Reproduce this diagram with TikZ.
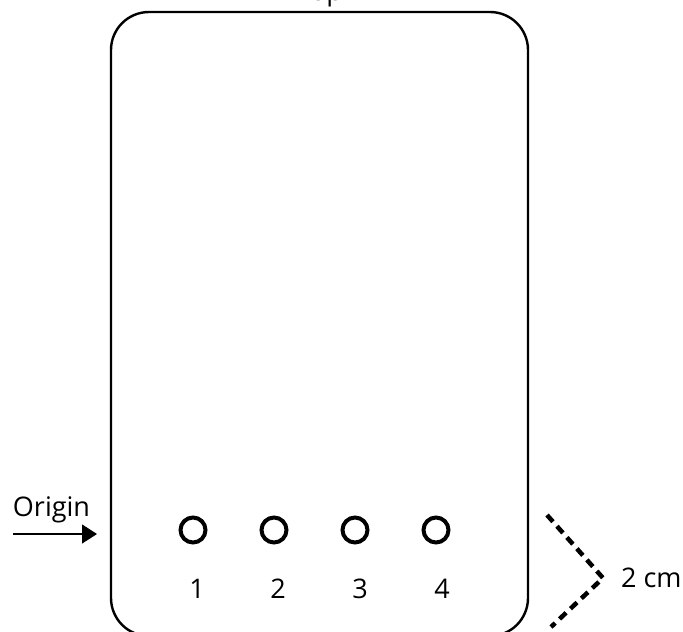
\documentclass[tikz,border=0pt]{standalone}
\usepackage{fontspec}
\setmainfont{Open Sans}
\usetikzlibrary{arrows.meta}
\begin{document}
\begin{tikzpicture}[x=1pt,y=-1pt,
  lbl/.style={font=\fontsize{27}{30}\selectfont, inner sep=0pt, anchor=base},
  hole/.style={circle, draw, line width=4pt, minimum size=25pt, inner sep=0pt},
  boxline/.style={line width=2.4pt, rounded corners=38pt},
  dimline/.style={line width=4.5pt, dash pattern=on 9pt off 6pt}]
\useasboundingbox (0,0) rectangle (683,632);
% outer rounded plate
\draw[boxline] (111,12) rectangle (528,636);
% top label (cut off)
\node[lbl] (top) at (320,0.5) {Top};
% holes
\node[hole] (h1) at (193,530) {};
\node[hole] (h2) at (274,530) {};
\node[hole] (h3) at (355,530) {};
\node[hole] (h4) at (436,530) {};
\node[lbl] (n1) at (197,598) {1};
\node[lbl] (n2) at (278,598) {2};
\node[lbl] (n3) at (360,598) {3};
\node[lbl] (n4) at (442,598) {4};
% origin arrow
\node[lbl] (origin) at (51.5,516) {Origin};
\coordinate (a0) at (13,534);
\coordinate (a1) at (97,534);
\draw[line width=1.3pt, -{Triangle[length=15pt,width=19pt]}] (a0) -- (a1);
% 2 cm dimension
\coordinate (d0) at (547,515);
\coordinate (d1) at (603,578);
\coordinate (d2) at (551,627);
\draw[dimline] (d0) -- (d1) -- (d2);
\node[lbl, anchor=base west] (dim) at (621,587) {2 cm};
\end{tikzpicture}
\end{document}
